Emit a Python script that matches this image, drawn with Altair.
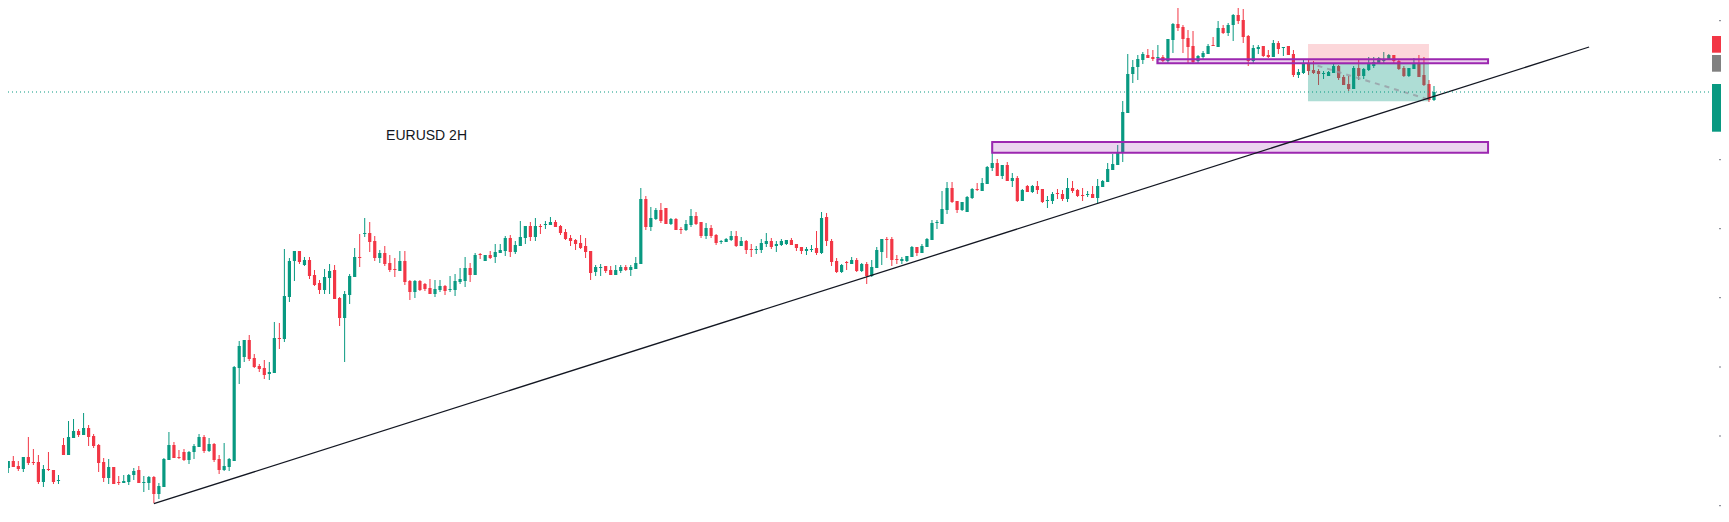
import altair as alt
import pandas as pd

# ---------------- candle data (EURUSD 2H) ----------------
open_ = [
    1.1132, 1.1139, 1.1134, 1.1131, 1.1143, 1.1138, 1.1138, 1.1118, 1.1131, 1.1130,
    1.1119, 1.1155, 1.1145, 1.1162, 1.1169, 1.1165, 1.1172, 1.1164, 1.1155, 1.1138,
    1.1122, 1.1133, 1.1118, 1.1117, 1.1118, 1.1125, 1.1130, 1.1117, 1.1117, 1.1123,
    1.1106, 1.1113, 1.1140, 1.1155, 1.1143, 1.1148, 1.1140, 1.1148, 1.1153, 1.1163,
    1.1149, 1.1156, 1.1141, 1.1130, 1.1133, 1.1139, 1.1232, 1.1243, 1.1260, 1.1242,
    1.1234, 1.1232, 1.1226, 1.1227, 1.1262, 1.1261, 1.1303, 1.1339, 1.1349, 1.1335,
    1.1340, 1.1325, 1.1317, 1.1310, 1.1322, 1.1330, 1.1302, 1.1282, 1.1305, 1.1323,
    1.1343, 1.1366, 1.1367, 1.1359, 1.1342, 1.1347, 1.1337, 1.1331, 1.1329, 1.1339,
    1.1319, 1.1308, 1.1319, 1.1316, 1.1312, 1.1306, 1.1310, 1.1314, 1.1310, 1.1310,
    1.1318, 1.1319, 1.1332, 1.1325, 1.1346, 1.1339, 1.1345, 1.1343, 1.1347, 1.1349,
    1.1362, 1.1348, 1.1354, 1.1362, 1.1374, 1.1363, 1.1374, 1.1375, 1.1375, 1.1378,
    1.1374, 1.1368, 1.1362, 1.1360, 1.1357, 1.1354, 1.1349, 1.1328, 1.1332, 1.1334,
    1.1330, 1.1325, 1.1329, 1.1333, 1.1330, 1.1331, 1.1336, 1.1401, 1.1373, 1.1381,
    1.1390, 1.1392, 1.1376, 1.1381, 1.1371, 1.1370, 1.1375, 1.1384, 1.1378, 1.1364,
    1.1372, 1.1365, 1.1358, 1.1358, 1.1360, 1.1364, 1.1354, 1.1359, 1.1351, 1.1350,
    1.1350, 1.1356, 1.1359, 1.1354, 1.1355, 1.1356, 1.1360, 1.1356, 1.1353, 1.1349,
    1.1350, 1.1352, 1.1347, 1.1383, 1.1359, 1.1339, 1.1328, 1.1338, 1.1336, 1.1340,
    1.1329, 1.1336, 1.1324, 1.1332, 1.1348, 1.1361, 1.1361, 1.1341, 1.1339, 1.1339,
    1.1343, 1.1353, 1.1347, 1.1353, 1.1360, 1.1377, 1.1376, 1.1390, 1.1412, 1.1399,
    1.1390, 1.1388, 1.1402, 1.1411, 1.1409, 1.1416, 1.1432, 1.1437, 1.1424, 1.1435,
    1.1419, 1.1422, 1.1399, 1.1414, 1.1408, 1.1414, 1.1411, 1.1399, 1.1399, 1.1407,
    1.1406, 1.1401, 1.1412, 1.1410, 1.1405, 1.1405, 1.1406, 1.1402, 1.1413, 1.1418,
    1.1430, 1.1435, 1.1447, 1.1487, 1.1526, 1.1533, 1.1540, 1.1545, 1.1543, 1.1542,
    1.1543, 1.1539, 1.1560, 1.1576, 1.1573, 1.1562, 1.1554, 1.1539, 1.1543, 1.1546,
    1.1555, 1.1553, 1.1572, 1.1567, 1.1575, 1.1585, 1.1580, 1.1564, 1.1539, 1.1551,
    1.1554, 1.1545, 1.1543, 1.1557, 1.1552, 1.1554, 1.1546, 1.1525, 1.1527, 1.1536,
    1.1530, 1.1529, 1.1526, 1.1524, 1.1527, 1.1534, 1.1523, 1.1516, 1.1511, 1.1532,
    1.1524, 1.1530, 1.1534, 1.1537, 1.1539, 1.1541, 1.1545, 1.1539, 1.1532, 1.1524,
    1.1531, 1.1537, 1.1525, 1.1516, 1.1500,
]
high = [
    1.1139, 1.1144, 1.1139, 1.1143, 1.1163, 1.1151, 1.1145, 1.1135, 1.1148, 1.1130,
    1.1125, 1.1162, 1.1179, 1.1181, 1.1171, 1.1187, 1.1175, 1.1166, 1.1156, 1.1142,
    1.1141, 1.1133, 1.1124, 1.1125, 1.1126, 1.1132, 1.1134, 1.1124, 1.1124, 1.1124,
    1.1117, 1.1142, 1.1168, 1.1158, 1.1150, 1.1151, 1.1149, 1.1156, 1.1166, 1.1165,
    1.1162, 1.1157, 1.1145, 1.1157, 1.1142, 1.1234, 1.1259, 1.1260, 1.1265, 1.1246,
    1.1236, 1.1240, 1.1238, 1.1278, 1.1277, 1.1351, 1.1342, 1.1349, 1.1349, 1.1343,
    1.1343, 1.1330, 1.1320, 1.1331, 1.1336, 1.1335, 1.1303, 1.1309, 1.1326, 1.1352,
    1.1366, 1.1382, 1.1378, 1.1364, 1.1350, 1.1354, 1.1345, 1.1342, 1.1349, 1.1349,
    1.1320, 1.1320, 1.1320, 1.1317, 1.1321, 1.1320, 1.1320, 1.1315, 1.1324, 1.1326,
    1.1332, 1.1343, 1.1337, 1.1347, 1.1347, 1.1345, 1.1349, 1.1356, 1.1356, 1.1364,
    1.1365, 1.1359, 1.1379, 1.1374, 1.1378, 1.1382, 1.1376, 1.1379, 1.1383, 1.1380,
    1.1375, 1.1371, 1.1365, 1.1361, 1.1365, 1.1362, 1.1349, 1.1335, 1.1336, 1.1334,
    1.1334, 1.1335, 1.1335, 1.1335, 1.1335, 1.1343, 1.1412, 1.1404, 1.1393, 1.1392,
    1.1397, 1.1392, 1.1382, 1.1382, 1.1373, 1.1380, 1.1391, 1.1388, 1.1378, 1.1377,
    1.1375, 1.1366, 1.1360, 1.1362, 1.1369, 1.1369, 1.1363, 1.1360, 1.1356, 1.1354,
    1.1361, 1.1367, 1.1362, 1.1359, 1.1361, 1.1360, 1.1362, 1.1356, 1.1353, 1.1353,
    1.1355, 1.1369, 1.1388, 1.1387, 1.1361, 1.1342, 1.1336, 1.1339, 1.1343, 1.1342,
    1.1337, 1.1338, 1.1340, 1.1353, 1.1361, 1.1363, 1.1363, 1.1345, 1.1343, 1.1344,
    1.1354, 1.1353, 1.1356, 1.1362, 1.1380, 1.1380, 1.1409, 1.1418, 1.1418, 1.1399,
    1.1398, 1.1404, 1.1412, 1.1417, 1.1422, 1.1434, 1.1458, 1.1441, 1.1435, 1.1438,
    1.1427, 1.1424, 1.1411, 1.1415, 1.1415, 1.1419, 1.1411, 1.1404, 1.1408, 1.1411,
    1.1410, 1.1422, 1.1419, 1.1411, 1.1412, 1.1409, 1.1414, 1.1421, 1.1420, 1.1437,
    1.1446, 1.1455, 1.1499, 1.1546, 1.1540, 1.1545, 1.1548, 1.1551, 1.1550, 1.1555,
    1.1545, 1.1561, 1.1577, 1.1592, 1.1575, 1.1570, 1.1569, 1.1545, 1.1549, 1.1556,
    1.1563, 1.1579, 1.1575, 1.1577, 1.1586, 1.1593, 1.1591, 1.1565, 1.1555, 1.1555,
    1.1554, 1.1550, 1.1560, 1.1559, 1.1553, 1.1554, 1.1550, 1.1531, 1.1541, 1.1541,
    1.1539, 1.1531, 1.1529, 1.1529, 1.1537, 1.1535, 1.1525, 1.1524, 1.1534, 1.1541,
    1.1532, 1.1543, 1.1543, 1.1543, 1.1548, 1.1546, 1.1545, 1.1541, 1.1534, 1.1532,
    1.1542, 1.1545, 1.1543, 1.1520, 1.1514,
]
low = [
    1.1127, 1.1133, 1.1129, 1.1128, 1.1135, 1.1135, 1.1116, 1.1113, 1.1129, 1.1116,
    1.1116, 1.1145, 1.1145, 1.1162, 1.1163, 1.1165, 1.1154, 1.1152, 1.1128, 1.1118,
    1.1116, 1.1116, 1.1115, 1.1117, 1.1115, 1.1120, 1.1117, 1.1108, 1.1110, 1.1097,
    1.1101, 1.1113, 1.1140, 1.1142, 1.1141, 1.1139, 1.1136, 1.1141, 1.1153, 1.1147,
    1.1148, 1.1138, 1.1126, 1.1129, 1.1129, 1.1139, 1.1216, 1.1238, 1.1239, 1.1232,
    1.1228, 1.1221, 1.1220, 1.1227, 1.1251, 1.1258, 1.1298, 1.1319, 1.1336, 1.1334,
    1.1321, 1.1314, 1.1306, 1.1306, 1.1306, 1.1301, 1.1274, 1.1238, 1.1296, 1.1323,
    1.1333, 1.1363, 1.1348, 1.1339, 1.1337, 1.1334, 1.1328, 1.1323, 1.1329, 1.1315,
    1.1300, 1.1302, 1.1309, 1.1309, 1.1306, 1.1303, 1.1308, 1.1305, 1.1308, 1.1304,
    1.1316, 1.1313, 1.1318, 1.1325, 1.1341, 1.1339, 1.1341, 1.1337, 1.1347, 1.1344,
    1.1343, 1.1346, 1.1354, 1.1356, 1.1359, 1.1359, 1.1366, 1.1371, 1.1375, 1.1373,
    1.1365, 1.1360, 1.1354, 1.1350, 1.1351, 1.1342, 1.1320, 1.1324, 1.1324, 1.1327,
    1.1325, 1.1325, 1.1327, 1.1329, 1.1324, 1.1331, 1.1336, 1.1370, 1.1369, 1.1380,
    1.1377, 1.1376, 1.1375, 1.1370, 1.1366, 1.1369, 1.1373, 1.1375, 1.1362, 1.1361,
    1.1362, 1.1355, 1.1356, 1.1358, 1.1359, 1.1353, 1.1354, 1.1346, 1.1343, 1.1346,
    1.1347, 1.1353, 1.1351, 1.1348, 1.1354, 1.1355, 1.1355, 1.1349, 1.1346, 1.1345,
    1.1348, 1.1345, 1.1346, 1.1354, 1.1334, 1.1327, 1.1327, 1.1330, 1.1336, 1.1328,
    1.1328, 1.1316, 1.1323, 1.1332, 1.1335, 1.1342, 1.1334, 1.1336, 1.1336, 1.1338,
    1.1343, 1.1344, 1.1347, 1.1353, 1.1360, 1.1371, 1.1376, 1.1386, 1.1397, 1.1387,
    1.1389, 1.1388, 1.1401, 1.1409, 1.1409, 1.1416, 1.1429, 1.1424, 1.1421, 1.1419,
    1.1413, 1.1398, 1.1399, 1.1408, 1.1407, 1.1406, 1.1397, 1.1392, 1.1396, 1.1401,
    1.1399, 1.1398, 1.1407, 1.1403, 1.1399, 1.1403, 1.1402, 1.1397, 1.1413, 1.1418,
    1.1430, 1.1435, 1.1438, 1.1487, 1.1517, 1.1520, 1.1536, 1.1542, 1.1539, 1.1537,
    1.1538, 1.1537, 1.1547, 1.1569, 1.1547, 1.1537, 1.1536, 1.1537, 1.1541, 1.1546,
    1.1554, 1.1553, 1.1566, 1.1564, 1.1559, 1.1576, 1.1557, 1.1534, 1.1537, 1.1546,
    1.1543, 1.1542, 1.1543, 1.1546, 1.1544, 1.1545, 1.1523, 1.1522, 1.1526, 1.1525,
    1.1526, 1.1515, 1.1521, 1.1524, 1.1527, 1.1520, 1.1515, 1.1509, 1.1511, 1.1520,
    1.1521, 1.1529, 1.1532, 1.1536, 1.1536, 1.1540, 1.1537, 1.1530, 1.1523, 1.1523,
    1.1531, 1.1523, 1.1514, 1.1498, 1.1499,
]
close = [
    1.1139, 1.1133, 1.1131, 1.1143, 1.1137, 1.1137, 1.1118, 1.1131, 1.1130, 1.1118,
    1.1120, 1.1145, 1.1163, 1.1169, 1.1165, 1.1172, 1.1163, 1.1154, 1.1137, 1.1122,
    1.1133, 1.1116, 1.1117, 1.1119, 1.1125, 1.1129, 1.1117, 1.1118, 1.1123, 1.1106,
    1.1114, 1.1141, 1.1155, 1.1142, 1.1142, 1.1140, 1.1148, 1.1154, 1.1163, 1.1149,
    1.1156, 1.1140, 1.1130, 1.1134, 1.1141, 1.1233, 1.1254, 1.1260, 1.1241, 1.1233,
    1.1231, 1.1225, 1.1228, 1.1262, 1.1261, 1.1304, 1.1339, 1.1349, 1.1338, 1.1340,
    1.1324, 1.1315, 1.1310, 1.1323, 1.1329, 1.1301, 1.1282, 1.1306, 1.1324, 1.1343,
    1.1342, 1.1367, 1.1358, 1.1342, 1.1347, 1.1336, 1.1330, 1.1330, 1.1339, 1.1318,
    1.1308, 1.1319, 1.1310, 1.1311, 1.1306, 1.1311, 1.1314, 1.1309, 1.1311, 1.1319,
    1.1321, 1.1332, 1.1325, 1.1345, 1.1345, 1.1345, 1.1342, 1.1348, 1.1350, 1.1362,
    1.1348, 1.1355, 1.1363, 1.1374, 1.1363, 1.1374, 1.1373, 1.1376, 1.1378, 1.1373,
    1.1367, 1.1361, 1.1359, 1.1356, 1.1352, 1.1348, 1.1327, 1.1333, 1.1333, 1.1329,
    1.1325, 1.1330, 1.1333, 1.1330, 1.1333, 1.1337, 1.1401, 1.1373, 1.1382, 1.1390,
    1.1379, 1.1376, 1.1381, 1.1370, 1.1370, 1.1376, 1.1384, 1.1376, 1.1364, 1.1372,
    1.1364, 1.1357, 1.1359, 1.1361, 1.1364, 1.1354, 1.1359, 1.1350, 1.1350, 1.1351,
    1.1357, 1.1359, 1.1353, 1.1356, 1.1359, 1.1360, 1.1355, 1.1352, 1.1349, 1.1351,
    1.1351, 1.1347, 1.1382, 1.1359, 1.1338, 1.1328, 1.1335, 1.1337, 1.1340, 1.1329,
    1.1336, 1.1324, 1.1333, 1.1350, 1.1361, 1.1360, 1.1340, 1.1340, 1.1341, 1.1344,
    1.1353, 1.1347, 1.1354, 1.1361, 1.1377, 1.1378, 1.1391, 1.1412, 1.1398, 1.1390,
    1.1398, 1.1403, 1.1411, 1.1410, 1.1417, 1.1433, 1.1437, 1.1424, 1.1435, 1.1419,
    1.1422, 1.1399, 1.1410, 1.1408, 1.1414, 1.1410, 1.1398, 1.1400, 1.1406, 1.1406,
    1.1401, 1.1412, 1.1409, 1.1404, 1.1404, 1.1406, 1.1402, 1.1414, 1.1419, 1.1431,
    1.1436, 1.1448, 1.1488, 1.1526, 1.1533, 1.1541, 1.1546, 1.1542, 1.1541, 1.1543,
    1.1539, 1.1561, 1.1576, 1.1572, 1.1561, 1.1553, 1.1538, 1.1544, 1.1547, 1.1554,
    1.1554, 1.1572, 1.1567, 1.1575, 1.1585, 1.1579, 1.1563, 1.1539, 1.1552, 1.1553,
    1.1544, 1.1543, 1.1557, 1.1551, 1.1553, 1.1545, 1.1525, 1.1528, 1.1536, 1.1529,
    1.1527, 1.1526, 1.1527, 1.1528, 1.1534, 1.1522, 1.1515, 1.1511, 1.1532, 1.1524,
    1.1531, 1.1536, 1.1538, 1.1542, 1.1540, 1.1545, 1.1539, 1.1531, 1.1524, 1.1532,
    1.1537, 1.1523, 1.1515, 1.1500, 1.1508,
]

# ---------------- drawings ----------------
price_ticks = [1.15793, 1.1510, 1.14403, 1.13713, 1.13023, 1.1233, 1.1164, 1.10943]

trend_bar = [29, 314.9]
trend_price = [1.10963, 1.1553]

zone_names = ["upper", "lower"]
zone_bar_start = [228.9, 196.0]
zone_bar_end = [294.77, 294.77]
zone_top = [1.15407, 1.1458]
zone_bottom = [1.15367, 1.14473]

pos_bar = [258.9, 283.0]
pos_stop = 1.1556
pos_entry = 1.15363
pos_target = 1.14987

proj_bar = [260.8, 282.6]
proj_price = [1.15343, 1.1501]

label_top = [1.1564, 1.1545, 1.1516]
label_bottom = [1.15473, 1.15283, 1.14683]

title_text = "EURUSD 2H"
title_bar = 75.26
title_price = 1.1460

# ---------------- build frames ----------------
df = pd.DataFrame({"i": list(range(len(open_))), "open": open_, "high": high,
                   "low": low, "close": close})
df["dir"] = ["up" if c >= o else "down" for o, c in zip(open_, close)]

W, H = 1729, 522
EDGE = W - 8          # visible right edge of the page
UP, DOWN, GREY = "#089981", "#f23645", "#808080"
xs = alt.Scale(domain=[-0.6536, 341.77], nice=False, zero=False)
ys = alt.Scale(domain=[1.1078, 1.16], nice=False, zero=False)
col = alt.Color("dir:N", scale=alt.Scale(domain=["up", "down"], range=[UP, DOWN]), legend=None)


def X(f):
    return alt.X(f, type="quantitative", scale=xs, axis=None)


def Y(f):
    return alt.Y(f, type="quantitative", scale=ys, axis=None)


wick = alt.Chart(df).mark_rule(strokeWidth=1).encode(x=X("i"), y=Y("low"), y2="high", color=col)
body = alt.Chart(df).mark_bar(size=3.2).encode(x=X("i"), y=Y("open"), y2="close", color=col)

risk_df = pd.DataFrame({"x0": [pos_bar[0]], "x1": [pos_bar[1]], "top": [pos_stop], "bot": [pos_entry]})
reward_df = pd.DataFrame({"x0": [pos_bar[0]], "x1": [pos_bar[1]], "top": [pos_entry], "bot": [pos_target]})
risk = alt.Chart(risk_df).mark_rect(color=DOWN, opacity=0.2).encode(
    x=X("x0"), x2="x1", y=Y("top"), y2="bot")
reward = alt.Chart(reward_df).mark_rect(color=UP, opacity=0.33).encode(
    x=X("x0"), x2="x1", y=Y("top"), y2="bot")
entry_df = pd.DataFrame({"x0": [pos_bar[0]], "x1": [pos_bar[1]], "p": [pos_entry]})
entry_line = alt.Chart(entry_df).mark_rule(color="#787b86", strokeWidth=1, opacity=0.8).encode(
    x=X("x0"), x2="x1", y=Y("p"))

zone_df = pd.DataFrame({"name": zone_names, "x0": zone_bar_start, "x1": zone_bar_end,
                        "top": zone_top, "bot": zone_bottom})
zones = alt.Chart(zone_df).mark_rect(fill="#9c27b0", fillOpacity=0.2, stroke="#9c27b0",
                                     strokeWidth=2).encode(x=X("x0"), x2="x1", y=Y("top"), y2="bot")

proj_df = pd.DataFrame({"x0": [proj_bar[0]], "x1": [proj_bar[1]],
                        "p0": [proj_price[0]], "p1": [proj_price[1]]})
proj = alt.Chart(proj_df).mark_rule(color="#9598a1", strokeWidth=2, strokeDash=[5, 5], opacity=0.75).encode(
    x=X("x0"), x2="x1", y=Y("p0"), y2="p1")

trend_df = pd.DataFrame({"x0": [trend_bar[0]], "x1": [trend_bar[1]],
                         "p0": [trend_price[0]], "p1": [trend_price[1]]})
trend = alt.Chart(trend_df).mark_rule(color="#131722", strokeWidth=1.3).encode(
    x=X("x0"), x2="x1", y=Y("p0"), y2="p1")

last_df = pd.DataFrame({"p": [close[-1]]})
last_line = alt.Chart(last_df).mark_rule(color=UP, strokeWidth=1, strokeDash=[1, 3]).encode(
    x=alt.value(0), x2=alt.value(EDGE - 9), y=Y("p"))

tick_df = pd.DataFrame({"p": price_ticks})
ticks = alt.Chart(tick_df).mark_rule(color="#787b86", strokeWidth=1).encode(
    x=alt.value(EDGE - 2), x2=alt.value(EDGE), y=Y("p"))

box_layers = []
for top, bot, c in zip(label_top, label_bottom, [DOWN, GREY, UP]):
    bdf = pd.DataFrame({"top": [top], "bot": [bot]})
    box_layers.append(alt.Chart(bdf).mark_rect(color=c).encode(
        x=alt.value(EDGE - 9), x2=alt.value(EDGE), y=Y("top"), y2="bot"))

title_df = pd.DataFrame({"t": [title_text], "x": [title_bar], "p": [title_price]})
title = alt.Chart(title_df).mark_text(align="left", baseline="alphabetic", color="#131722",
                                      fontSize=14, font="Liberation Sans").encode(
    x=X("x"), y=Y("p"), text="t:N")

chart = alt.layer(
    ticks, wick, body, risk, reward, entry_line, zones, proj, trend, last_line, *box_layers, title
).properties(
    width=W, height=H,
    padding={"left": -8, "top": -8, "right": -8, "bottom": -8},
    autosize=alt.AutoSizeParams(type="none"),
).configure_view(stroke=None)

chart.save("out.html", embed_options={"renderer": "svg", "actions": False})
